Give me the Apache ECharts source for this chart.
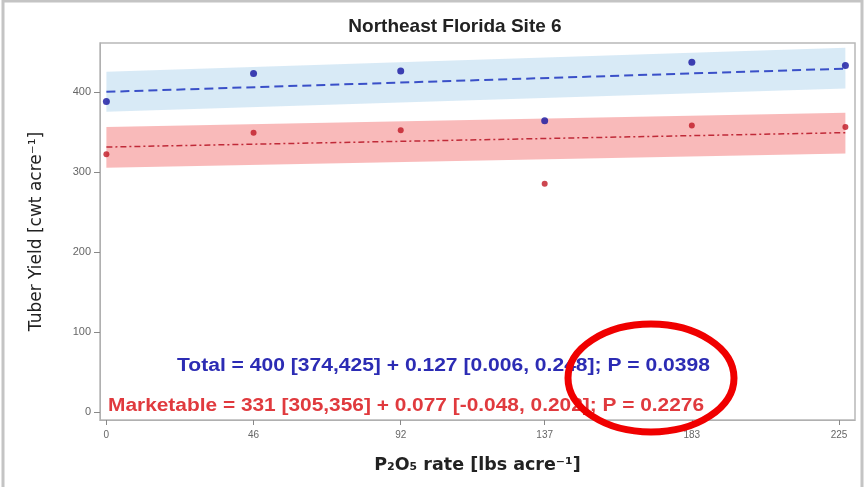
<!DOCTYPE html>
<html>
<head>
<meta charset="utf-8">
<script src="https://cdn.jsdelivr.net/npm/echarts@6/dist/echarts.min.js"></script>
<style>
  html, body { margin: 0; padding: 0; background: #fff; }
  #main { width: 866px; height: 487px; }
</style>
</head>
<body>
<div id="main"></div>
<script>
// P2O5 rate (lbs/acre) and yields
var rates = [0, 46, 92, 137, 183, 231];
var totalYield = [388, 423, 426, 364, 437, 433];
var marketYield = [322, 349, 352, 285, 358, 356];

// fitted lines and their bands, at the two ends
var fitX = [0, 231];
var totalFit = [400, 429];
var marketFit = [331, 349];
var totalLow = [375, 404];
var totalHigh = [425, 455];
var marketLow = [305, 323];
var marketHigh = [356, 374];

var xTicks = [0, 46, 92, 137, 183, 229];
var xTickLabels = ['0', '46', '92', '137', '183', '225'];
var yTicks = [0, 100, 200, 300, 400];

var chart = echarts.init(document.getElementById('main'));

function pairs(xs, ys) {
    var out = [];
    for (var i = 0; i < xs.length; i++) {
        out.push([xs[i], ys[i]]);
    }
    return out;
}

function band(low, high, color) {
    return {
        type: 'custom',
        silent: true,
        z: 1,
        data: fitX.map(function (x, i) { return [x, low[i], high[i]]; }),
        encode: { x: 0, y: [1, 2] },
        renderItem: function (params, api) {
            if (params.dataIndex !== 0) return;
            var pts = [];
            for (var i = 0; i < fitX.length; i++) pts.push(api.coord([fitX[i], high[i]]));
            for (var j = fitX.length - 1; j >= 0; j--) pts.push(api.coord([fitX[j], low[j]]));
            return { type: 'polygon', shape: { points: pts }, style: { fill: color } };
        }
    };
}

var font = '"Liberation Sans", Arial, sans-serif';

var option = {
    animation: false,
    title: {
        text: 'Northeast Florida Site 6',
        left: 450,
        top: 12,
        textAlign: 'center',
        textStyle: {
            fontFamily: '"Liberation Sans Narrow", "Arial Narrow", sans-serif',
            fontSize: 19,
            fontWeight: 'bold',
            color: '#222'
        }
    },
    grid: {
        left: 100,
        right: 11,
        top: 43,
        bottom: 67,
        show: true,
        borderColor: '#b8b8b8',
        borderWidth: 1.5
    },
    xAxis: {
        type: 'value',
        min: -2,
        max: 234,
        name: 'P\u2082O\u2085 rate [lbs acre\u207B\u00B9]',
        nameLocation: 'middle',
        nameGap: 36,
        nameTextStyle: {
            fontFamily: '"DejaVu Sans", sans-serif',
            fontSize: 17.5,
            fontWeight: 'bold',
            color: '#222'
        },
        splitLine: { show: false },
        axisLine: { show: true, onZero: false, lineStyle: { color: '#b0b0b0' } },
        axisTick: { show: true, customValues: xTicks, length: 5, lineStyle: { color: '#888' } },
        axisLabel: {
            customValues: xTicks,
            fontFamily: font,
            fontSize: 10,
            color: '#666',
            margin: 10,
            formatter: function (v) {
                var k = xTicks.indexOf(v);
                return k >= 0 ? xTickLabels[k] : '';
            }
        }
    },
    yAxis: {
        type: 'value',
        min: -10,
        max: 461,
        name: 'Tuber Yield [cwt acre\u207B\u00B9]',
        nameLocation: 'middle',
        nameGap: 55,
        nameTextStyle: {
            fontFamily: '"DejaVu Sans", sans-serif',
            fontSize: 17,
            color: '#222'
        },
        splitLine: { show: false },
        axisLine: { show: true, onZero: false, lineStyle: { color: '#b0b0b0' } },
        axisTick: { show: true, customValues: yTicks, length: 6, lineStyle: { color: '#888' } },
        axisLabel: {
            customValues: yTicks,
            fontFamily: font,
            fontSize: 11,
            color: '#666',
            margin: 9
        }
    },
    series: [
        band(totalLow, totalHigh, 'rgba(190, 220, 240, 0.6)'),
        band(marketLow, marketHigh, 'rgba(245, 140, 140, 0.6)'),
        {
            name: 'Total fit',
            type: 'line',
            data: pairs(fitX, totalFit),
            symbol: 'none',
            z: 3,
            lineStyle: { color: '#3a50c8', width: 2, type: [9, 5] }
        },
        {
            name: 'Marketable fit',
            type: 'line',
            data: pairs(fitX, marketFit),
            symbol: 'none',
            z: 3,
            lineStyle: { color: '#c02a38', width: 1.5, type: [6, 3, 2, 3] }
        },
        {
            name: 'Total',
            type: 'scatter',
            data: pairs(rates, totalYield),
            symbolSize: 7,
            z: 4,
            itemStyle: { color: '#1414a0' }
        },
        {
            name: 'Marketable',
            type: 'scatter',
            data: pairs(rates, marketYield),
            symbolSize: 6,
            z: 4,
            itemStyle: { color: '#c01824' }
        }
    ],
    graphic: [
        {
            type: 'rect',
            shape: { x: 3, y: 1, width: 859, height: 490 },
            style: { fill: 'none', stroke: '#c4c4c4', lineWidth: 3 },
            silent: true
        },
        {
            type: 'text',
            x: 177,
            y: 366,
            scaleX: 1.17,
            style: {
                text: 'Total = 400 [374,425] + 0.127 [0.006, 0.248]; P = 0.0398',
                fill: '#2c2cb4',
                fontFamily: font,
                fontWeight: 'bold',
                fontSize: 18,
                verticalAlign: 'middle'
            }
        },
        {
            type: 'text',
            x: 108,
            y: 406,
            scaleX: 1.16,
            style: {
                text: 'Marketable = 331 [305,356] + 0.077 [-0.048, 0.202]; P = 0.2276',
                fill: '#e03a3e',
                fontFamily: font,
                fontWeight: 'bold',
                fontSize: 18,
                verticalAlign: 'middle'
            }
        },
        {
            type: 'ellipse',
            shape: { cx: 651, cy: 378, rx: 83, ry: 54 },
            style: { fill: 'none', stroke: '#f00000', lineWidth: 7 },
            z: 100
        }
    ]
};

option && chart.setOption(option, true);
</script>
</body>
</html>
